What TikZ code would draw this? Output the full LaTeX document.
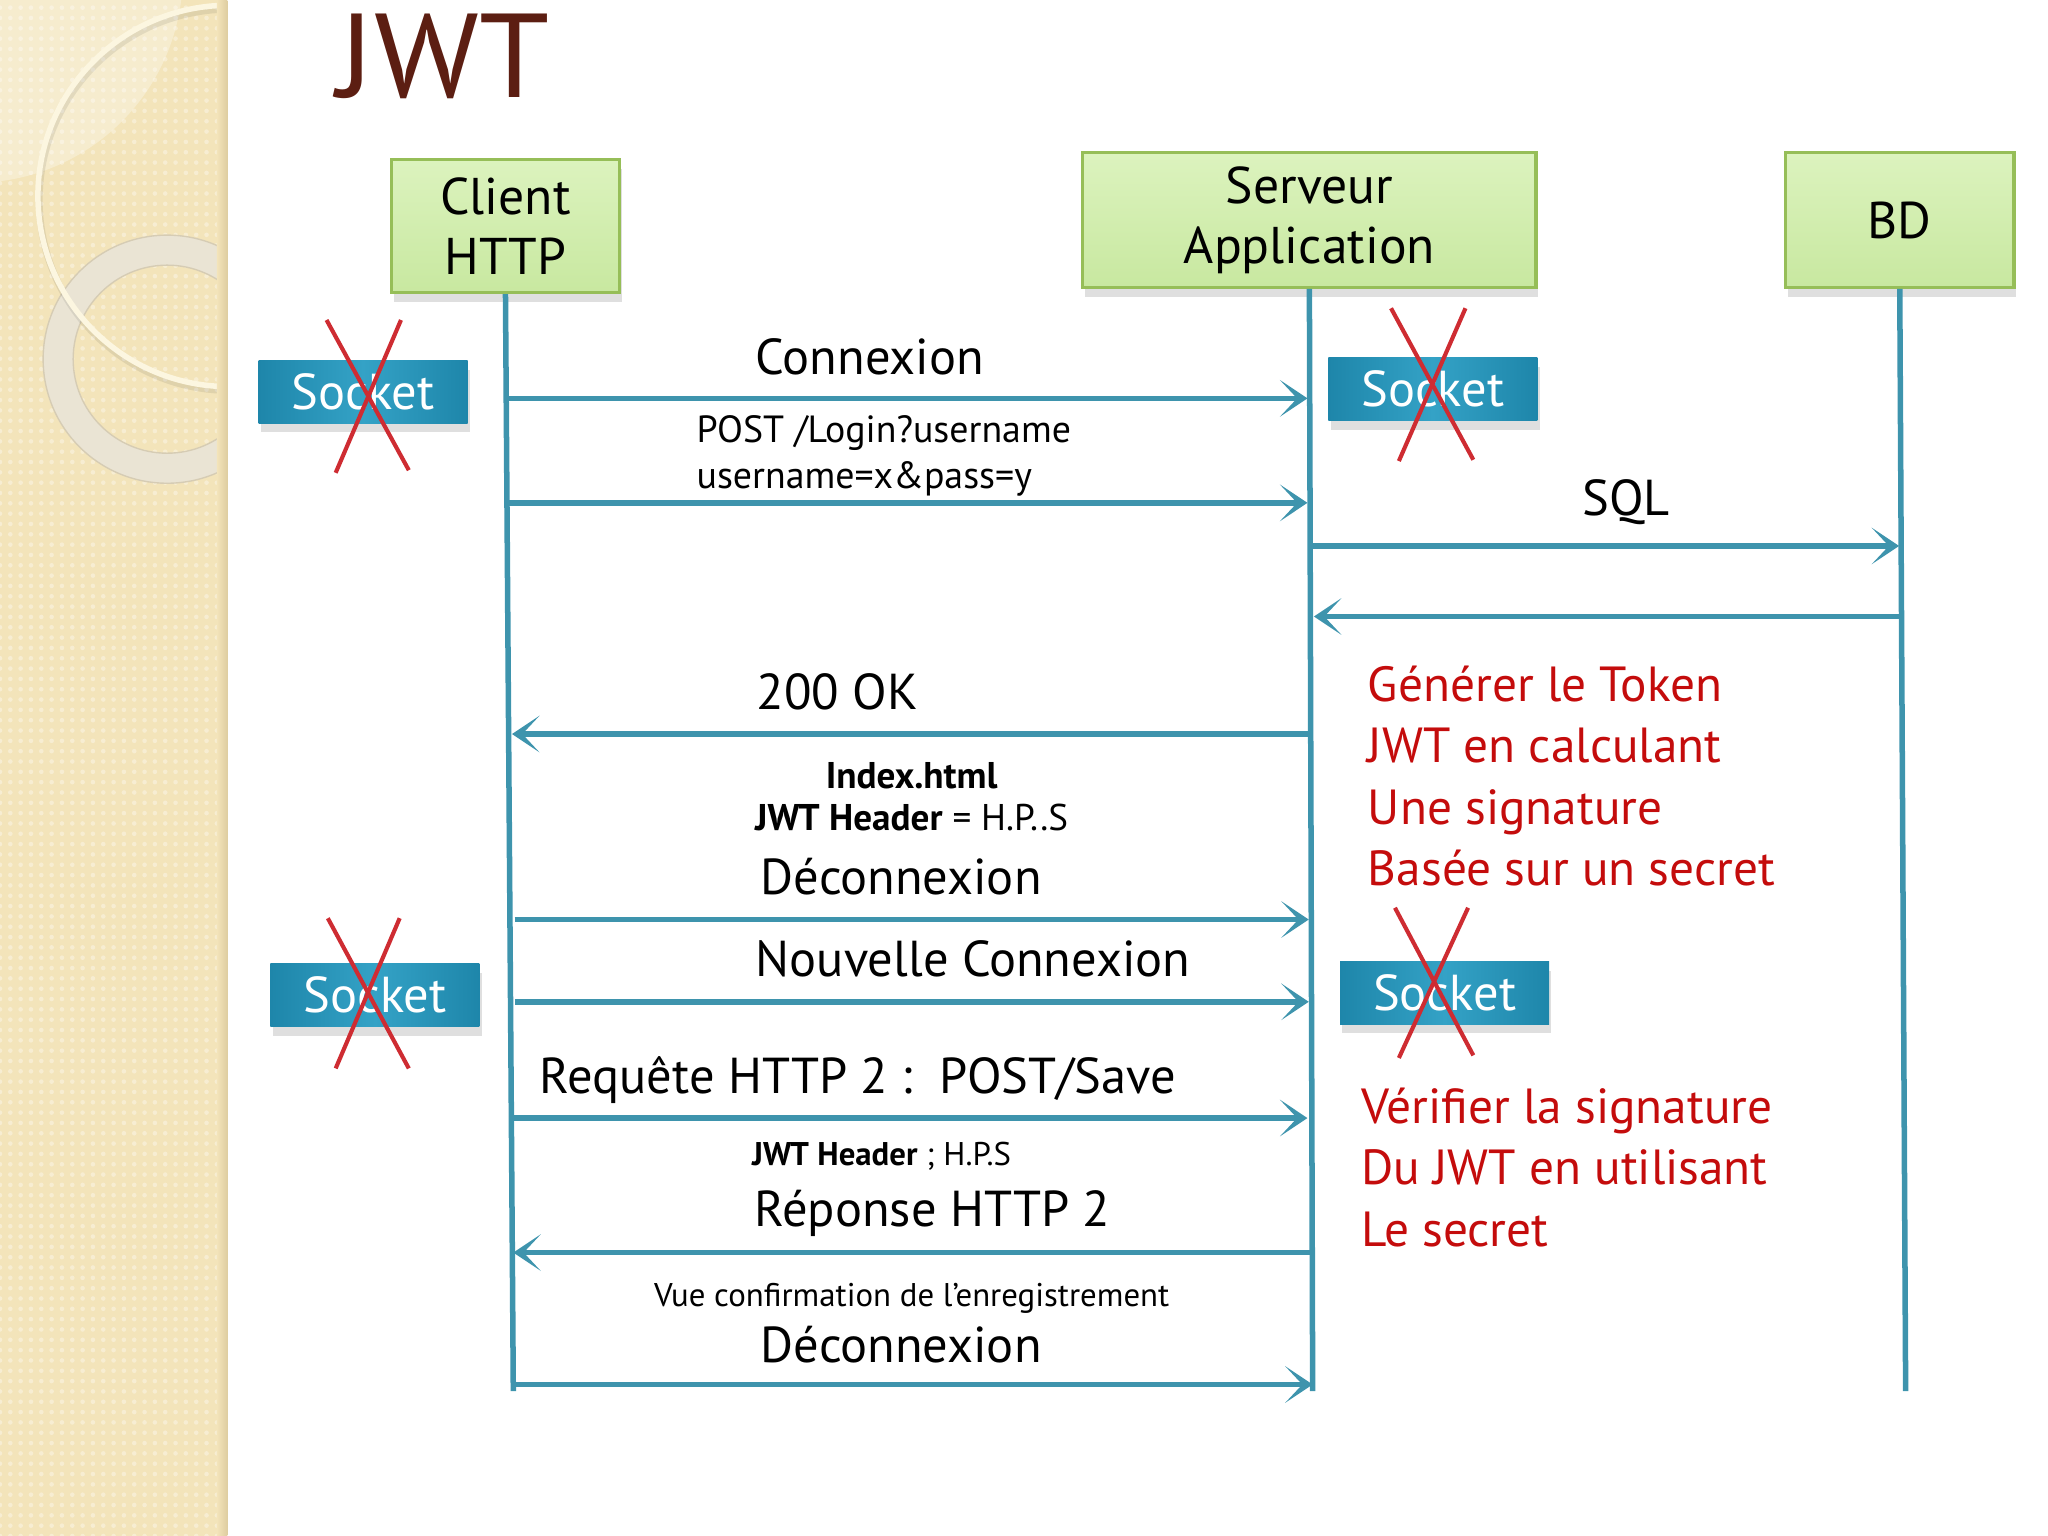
\documentclass[tikz,border=0pt]{standalone}
\usepackage{fontspec}
\setmainfont{PT Sans}
\usetikzlibrary{arrows.meta,shadows,patterns.meta}
\definecolor{beige}{RGB}{243,228,186}
\definecolor{beigedark}{RGB}{222,205,160}
\definecolor{ringcol}{RGB}{234,228,212}
\definecolor{ringline}{RGB}{214,204,180}
\definecolor{arccol}{RGB}{252,246,224}
\definecolor{lifeblue}{RGB}{62,148,173}
\definecolor{titlebrown}{RGB}{92,30,18}
\definecolor{redtext}{RGB}{196,12,12}
\definecolor{xred}{RGB}{206,44,50}
\definecolor{boxline}{RGB}{150,190,88}
\definecolor{boxtop}{RGB}{220,243,190}
\definecolor{boxbot}{RGB}{200,232,160}
\definecolor{sockdark}{RGB}{30,134,170}
\definecolor{socklight}{RGB}{52,162,198}
\tikzset{
  actor/.style={draw=boxline, line width=1.4pt, top color=boxtop, bottom color=boxbot,
    minimum width=3.5cm, minimum height=2.04cm, align=center, inner sep=0pt,
    font=\fontsize{22.5}{26}\selectfont,
    drop shadow={shadow xshift=1pt, shadow yshift=-4pt, opacity=.25}},
  sock/.style={left color=sockdark, right color=sockdark, middle color=socklight,
    minimum width=3.2cm, minimum height=0.96cm, inner sep=0pt, text=white,
    font=\fontsize{22}{24}\selectfont,
    drop shadow={shadow xshift=1pt, shadow yshift=-4pt, opacity=.25}},
  cross/.style={draw=xred, line width=1.8pt},
  life/.style={draw=lifeblue, line width=2.4pt},
  msg/.style={draw=lifeblue, line width=2.4pt,
    -{Stealth[length=12pt,width=16pt,inset=7.5pt]}},
  big/.style={font=\fontsize{22}{24}\selectfont, inner sep=0pt},
  mid/.style={font=\fontsize{16.5}{18}\selectfont, inner sep=0pt},
  small/.style={font=\fontsize{16.2}{18}\selectfont, inner sep=0pt},
  tiny/.style={font=\fontsize{14.3}{16}\selectfont, inner sep=0pt},
  red/.style={font=\fontsize{21.5}{24}\selectfont, inner sep=0pt, text=redtext, anchor=base west},
}
\begin{document}
\begin{tikzpicture}[x=0.02cm,y=-0.02cm]
\useasboundingbox (0,0) rectangle (1568,1176);
% background strip
\fill[beige] (0,0) rectangle (173,1176);
\fill[pattern={Dots[distance=4.5pt,radius=1pt]}, pattern color=white, opacity=.35] (0,0) rectangle (173,1176);
\begin{scope}
  \clip (0,0) rectangle (173,1176);
  \fill[white, opacity=.3] (-20,-20) circle[radius=3.2cm];
  \fill[ringcol, even odd rule, draw=ringline, line width=.6pt] (128,275) circle[radius=1.9cm] (128,275) circle[radius=1.44cm];
  \draw[black, opacity=.08, line width=3pt] (176,153) circle[radius=2.92cm];
  \draw[arccol, line width=2.4pt] (175,150) circle[radius=2.92cm];
\end{scope}
\shade[left color=beige, right color=beigedark] (166,0) rectangle (174,1176);

% title
\node[anchor=base west, inner sep=0pt, text=titlebrown, font=\fontsize{52}{56}\selectfont, xscale=1.06, transform shape] (title) at (258,75) {JWT};

% actors
\node[actor] (client) at (387,173) {Client\\HTTP};
\node[actor, minimum width=6.94cm, minimum height=2.06cm] (server) at (1002.5,168.5) {Serveur\\Application};
\node[actor, minimum height=2.06cm] (bd) at (1454.5,168.5) {BD};

% lifelines
\coordinate (cend) at (393,1065);
\coordinate (send) at (1005,1065);
\coordinate (bend) at (1459,1065);
\draw[life] (client.south) -- (cend);
\draw[life] (server.south) -- (send);
\draw[life] (bd.south) -- (bend);

% message coordinates
\coordinate (c1) at (389,305);  \coordinate (s1) at (1001,305);
\coordinate (c2) at (389,385);  \coordinate (s2) at (1001,385);
\coordinate (s3) at (1004,418); \coordinate (b3) at (1454,418);
\coordinate (b4) at (1457,472); \coordinate (s4) at (1006,472);
\coordinate (s5) at (1003,562); \coordinate (c5) at (392,562);
\coordinate (c6) at (394,704);  \coordinate (s6) at (1002,704);
\coordinate (c7) at (394,767);  \coordinate (s7) at (1002,767);
\coordinate (c8) at (393,856);  \coordinate (s8) at (1001,856);
\coordinate (s9) at (1005,959); \coordinate (c9) at (393,959);
\coordinate (c10) at (393,1060); \coordinate (s10) at (1005,1060);

\draw[msg] (c1) -- (s1);
\draw[msg] (c2) -- (s2);
\draw[msg] (s3) -- (b3);
\draw[msg] (b4) -- (s4);
\draw[msg] (s5) -- (c5);
\draw[msg] (c6) -- (s6);
\draw[msg] (c7) -- (s7);
\draw[msg] (c8) -- (s8);
\draw[msg] (s9) -- (c9);
\draw[msg] (c10) -- (s10);

% labels
\node[big, anchor=base] (lconn) at (666,287) {Connexion};
\node[mid, anchor=base west] (lpost) at (533,339) {POST /Login?username};
\node[mid, anchor=base west] (luser) at (533,374) {username=x\&pass=y};
\node[big, anchor=base] (lsql) at (1245,395) {SQL};
\node[big, anchor=base] (lok) at (641,543) {200 OK};
\node[small, anchor=base] (lindex) at (698,604) {\textbf{Index.html}};
\node[small, anchor=base] (lhead) at (698,636) {\textbf{JWT Header} = H.P..S};
\node[big, anchor=base] (ldec) at (690,685) {Déconnexion};
\node[big, anchor=base] (lnew) at (745,748) {Nouvelle Connexion};
\node[big, anchor=base west] (lreq) at (413,837) {Requête HTTP 2 :~~POST/Save};
\node[tiny, anchor=base] (lhead2) at (675,892) {\textbf{JWT Header} ; H.P.S};
\node[big, anchor=base] (lrep) at (714,939) {Réponse HTTP 2};
\node[tiny, anchor=base] (lvue) at (698,1000) {Vue confirmation de l’enregistrement};
\node[big, anchor=base] (ldec2) at (690,1043) {Déconnexion};

% red notes
\node[red] (r1) at (1047,537) {Générer le Token};
\node[red] (r2) at (1047,584) {JWT en calculant};
\node[red] (r3) at (1047,631) {Une signature};
\node[red] (r4) at (1047,678) {Basée sur un secret};
\node[red] (r5) at (1042,860) {Vérifier la signature};
\node[red] (r6) at (1042,907) {Du JWT en utilisant};
\node[red] (r7) at (1042,954) {Le secret};

% sockets
\node[sock] (k1) at (278,300) {Socket};
\node[sock] (k2) at (1097,298) {Socket};
\node[sock] (k3) at (287,762) {Socket};
\node[sock] (k4) at (1106,760) {Socket};
\draw[cross] (250,245) -- (313,360);
\draw[cross] (307,245) -- (257,362);
\draw[cross] (1065,236) -- (1128,352);
\draw[cross] (1122,236) -- (1071,353);
\draw[cross] (251,703) -- (313,818);
\draw[cross] (306,703) -- (257,818);
\draw[cross] (1068,695) -- (1128,808);
\draw[cross] (1124,695) -- (1071,810);
\end{tikzpicture}
\end{document}
